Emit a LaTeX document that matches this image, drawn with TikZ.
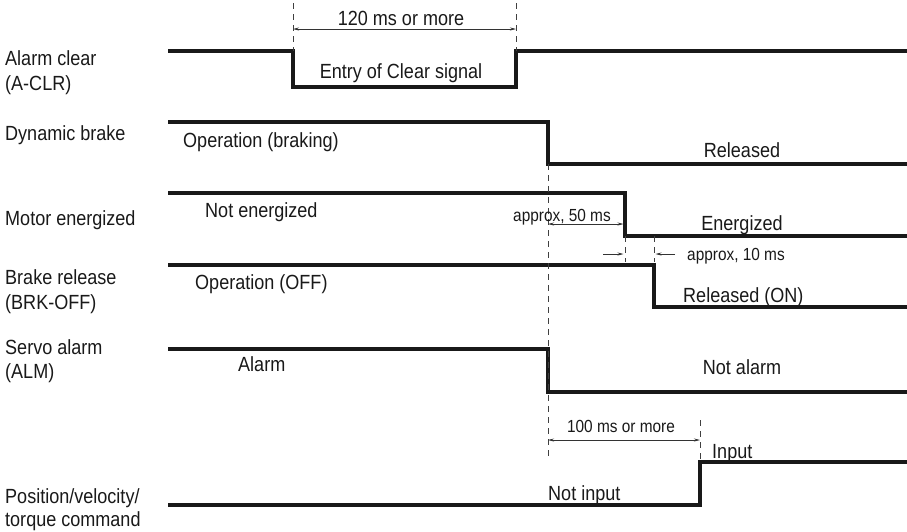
\documentclass[tikz,border=0pt]{standalone}
\usepackage{fontspec}
\setmainfont{Liberation Sans}[FakeStretch=0.88]
\usetikzlibrary{arrows.meta}
\usetikzlibrary{positioning}

\tikzset{
  sig/.style={line width=3.5pt,line join=miter,draw=black!90},
  guide/.style={draw=black!75,line width=0.9pt,dash pattern=on 6pt off 5pt},
  dimline/.style={draw=black!80,line width=0.7pt},
  tip/.style={-{Stealth[length=6pt,width=3pt]}},
  tips/.style={{Stealth[length=6pt,width=3pt]}-{Stealth[length=6pt,width=3pt]}},
  txt/.style={font=\fontsize{20.5}{24.5}\selectfont,inner sep=0pt,text height=14.6pt,text depth=0pt,text=black!90},
  txtsmall/.style={txt,font=\fontsize{17.5}{21}\selectfont,text height=12.5pt},
  signame/.style={txt,anchor=west,align=left},
}

\begin{document}
\begin{tikzpicture}[x=1pt,y=-1pt]
\useasboundingbox (0,0) rectangle (907,531);

% signal names
\node[signame] (nAclr) at (5,83) {Alarm clear\\(A-CLR)};
\node[signame] (nDb) at (5,133) {Dynamic brake};
\node[signame] (nMot) at (5,218) {Motor energized};
\node[signame] (nBrk) at (5,302) {Brake release\\(BRK-OFF)};
\node[signame] (nAlm) at (5,371.5) {Servo alarm\\(ALM)};
\node[signame,font=\fontsize{20.5}{22.5}\selectfont] (nCmd) at (5,519) {Position/velocity/\\torque command};

% waveforms
\draw[sig] (168,51) -- (293,51) -- (293,87) -- (516,87) -- (516,51) -- (907,51);
\draw[sig] (168,122) -- (548,122) -- (548,164) -- (907,164);
\draw[sig] (168,193) -- (625,193) -- (625,236) -- (907,236);
\draw[sig] (168,265) -- (654,265) -- (654,307) -- (907,307);
\draw[sig] (168,349) -- (548,349) -- (548,392) -- (907,392);
\draw[sig] (168,505) -- (700,505) -- (700,462) -- (907,462);

% timing guides
\draw[guide] (293,3) -- (293,51);
\draw[guide] (516,3) -- (516,51);
\draw[guide] (548,164) -- (548,460);
\draw[guide] (625,236) -- (625,262);
\draw[guide] (654,236) -- (654,262);
\draw[guide] (700,420) -- (700,462);

% dimensions
\coordinate (clrA) at (293,29);
\coordinate (clrB) at (516,29);
\coordinate (motA) at (548,224);
\coordinate (motB) at (623.5,224);
\coordinate (brkA) at (603,254);
\coordinate (brkB) at (623.5,254);
\coordinate (brkC) at (675,254);
\coordinate (brkD) at (655.5,254);
\coordinate (cmdA) at (548,440);
\coordinate (cmdB) at (700,440);
\draw[dimline,tips] (clrA) -- (clrB);
\draw[dimline,tips] (motA) -- (motB);
\draw[dimline,tip] (brkA) -- (brkB);
\draw[dimline,tip] (brkC) -- (brkD);
\draw[dimline,tips] (cmdA) -- (cmdB);

% states and times
\node[txt] (t120) at (401,18.5) {120 ms or more};
\node[txt] (tEntry) at (401,71.5) {Entry of Clear signal};
\node[txt,anchor=west] (tBraking) at (183,140) {Operation (braking)};
\node[txt] (tReleased) at (742,150.5) {Released};
\node[txt,anchor=west] (tNotEn) at (205,210) {Not energized};
\node[txtsmall,anchor=west] (t50) at (513,215) {approx, 50 ms};
\node[txt] (tEnergized) at (742,223) {Energized};
\node[txtsmall,anchor=west] (t10) at (687,254) {approx, 10 ms};
\node[txt,anchor=west] (tOff) at (195,282) {Operation (OFF)};
\node[txt,anchor=west] (tRelOn) at (683,295) {Released (ON)};
\node[txt,anchor=west] (tAlarm) at (238,364) {Alarm};
\node[txt] (tNotAlarm) at (742,367) {Not alarm};
\node[txtsmall] (t100) at (621,426) {100 ms or more};
\node[txt,anchor=west] (tInput) at (712,451) {Input};
\node[txt,anchor=west] (tNotInput) at (548,493) {Not input};

\end{tikzpicture}
\end{document}
